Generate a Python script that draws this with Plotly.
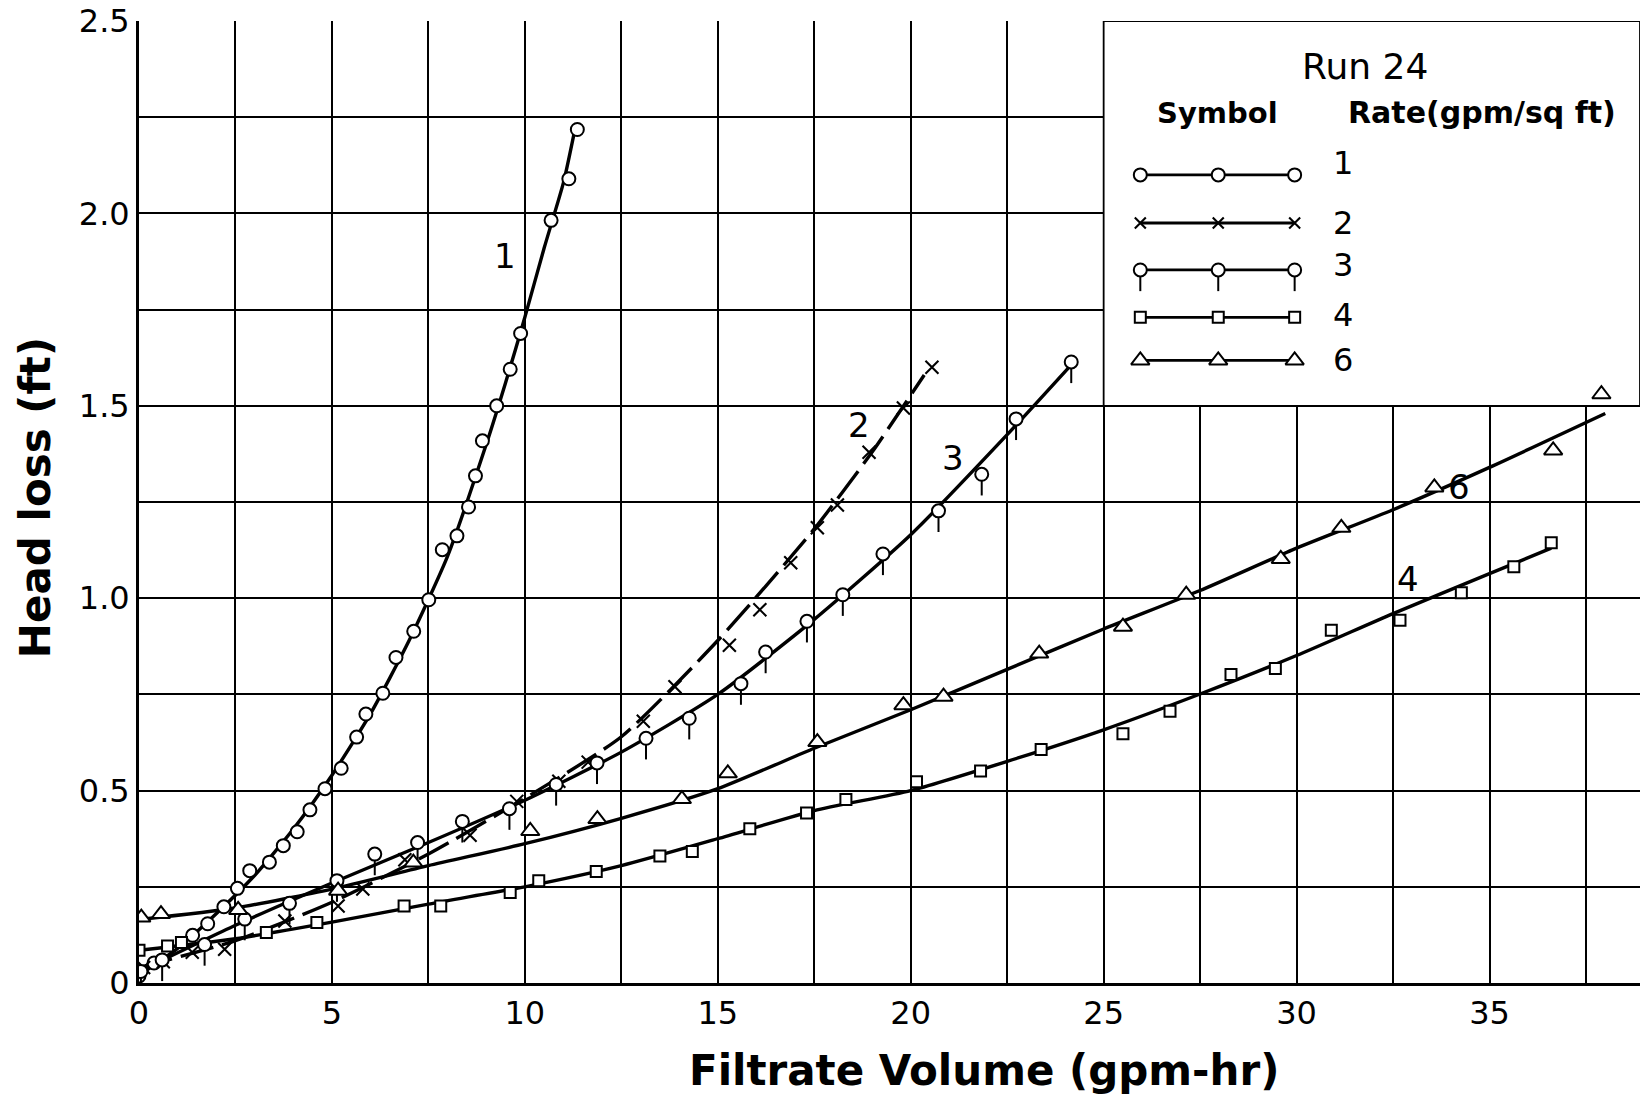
import plotly.graph_objects as go

# ---------------- data (Run 24) ----------------
# Filtrate volume (gpm-hr) and head loss (ft) of the measured points
rate1_x = [0.0, 0.39, 1.39, 1.78, 2.2, 2.55, 2.87, 3.38, 3.74, 4.1, 4.43, 4.82, 5.24, 5.64, 5.88, 6.32, 6.66, 7.12, 7.51, 7.86, 8.24, 8.54, 8.72, 8.9, 9.27, 9.62, 9.89, 10.68, 11.14, 11.36]
rate1_y = [0.018, 0.052, 0.124, 0.154, 0.198, 0.246, 0.292, 0.314, 0.357, 0.393, 0.45, 0.505, 0.558, 0.639, 0.699, 0.753, 0.846, 0.914, 0.996, 1.126, 1.162, 1.237, 1.318, 1.409, 1.50, 1.595, 1.688, 1.982, 2.09, 2.218]

rate2_x = [0.12, 0.63, 1.38, 2.22, 3.78, 5.16, 5.8, 6.89, 8.58, 9.79, 10.88, 11.64, 13.07, 13.89, 15.3, 16.09, 16.89, 17.58, 18.1, 18.92, 19.81, 20.55]
rate2_y = [0.04, 0.055, 0.08, 0.088, 0.161, 0.20, 0.244, 0.32, 0.384, 0.472, 0.524, 0.574, 0.68, 0.77, 0.878, 0.97, 1.092, 1.183, 1.242, 1.379, 1.494, 1.60]

rate3_x = [0.05, 0.6, 1.7, 2.74, 3.9, 5.13, 6.11, 7.22, 8.38, 9.6, 10.81, 11.87, 13.14, 14.26, 15.6, 16.24, 17.31, 18.24, 19.28, 20.72, 21.84, 22.73, 24.16]
rate3_y = [0.03, 0.06, 0.10, 0.166, 0.207, 0.266, 0.335, 0.365, 0.42, 0.453, 0.516, 0.572, 0.636, 0.688, 0.778, 0.86, 0.94, 1.009, 1.115, 1.227, 1.322, 1.466, 1.614]

rate4_x = [0.0, 0.74, 1.1, 3.3, 4.61, 6.87, 7.82, 9.62, 10.36, 11.85, 13.5, 14.34, 15.83, 17.3, 18.32, 20.15, 21.81, 23.38, 25.5, 26.72, 28.3, 29.45, 30.9, 32.68, 34.27, 35.63, 36.6]
rate4_y = [0.085, 0.096, 0.105, 0.131, 0.157, 0.20, 0.20, 0.235, 0.266, 0.29, 0.33, 0.342, 0.401, 0.442, 0.477, 0.523, 0.551, 0.607, 0.648, 0.706, 0.802, 0.817, 0.917, 0.943, 1.014, 1.082, 1.144]

rate6_x = [0.06, 0.57, 2.57, 5.16, 7.11, 10.14, 11.88, 14.07, 15.26, 17.58, 19.81, 20.85, 23.33, 25.5, 27.14, 29.59, 31.16, 33.57, 36.65, 37.9]
rate6_y = [0.17, 0.179, 0.19, 0.24, 0.313, 0.395, 0.426, 0.478, 0.545, 0.626, 0.722, 0.744, 0.856, 0.926, 1.009, 1.102, 1.183, 1.288, 1.384, 1.53]

# hand-drawn fitted curves
curve1_x = [0, 1, 2, 3, 4, 5, 6, 7, 8, 9, 9.5, 10, 10.5, 11, 11.28]
curve1_y = [0.02, 0.09, 0.18, 0.28, 0.40, 0.54, 0.70, 0.89, 1.11, 1.40, 1.56, 1.73, 1.91, 2.08, 2.21]

curve2_x = [0, 2.5, 5, 7.5, 10, 12.5, 15, 17.5, 19, 20.35]
curve2_y = [0.04, 0.11, 0.21, 0.335, 0.48, 0.64, 0.89, 1.18, 1.38, 1.58]

curve3_x = [0, 2.5, 5, 7.5, 10, 12.5, 15, 17.5, 20, 22.5, 24.1]
curve3_y = [0.03, 0.15, 0.26, 0.365, 0.475, 0.60, 0.75, 0.945, 1.165, 1.425, 1.60]

curve4_x = [0, 2.5, 5, 7.5, 10, 12.5, 15, 17.5, 20, 22.5, 25, 27.5, 30, 32.5, 35, 36.6]
curve4_y = [0.085, 0.115, 0.158, 0.205, 0.25, 0.305, 0.375, 0.448, 0.50, 0.576, 0.658, 0.751, 0.851, 0.96, 1.064, 1.13]

curve6_x = [0, 2.5, 5, 7.5, 10, 12.5, 15, 17.5, 20, 22.5, 25, 27.5, 30, 32.5, 35, 38]
curve6_y = [0.165, 0.195, 0.244, 0.305, 0.362, 0.428, 0.505, 0.61, 0.71, 0.815, 0.92, 1.02, 1.13, 1.23, 1.34, 1.48]

rate_labels = ["1", "2", "3", "4", "6"]
x_tick_vals = [0, 5, 10, 15, 20, 25, 30, 35]
x_tick_text = ["0", "5", "10", "15", "20", "25", "30", "35"]
y_tick_vals = [0, 0.5, 1.0, 1.5, 2.0, 2.5]
y_tick_text = ["0", "0.5", "1.0", "1.5", "2.0", "2.5"]

# ---------------- style ----------------
FONT = "DejaVu Sans"
INK = "black"
LW = 3.4
STEM = 0.055  # length of the stem under the rate-3 symbol (data units)

styles = {
    "1": dict(symbol="circle", size=13),
    "2": dict(symbol="x-thin", size=13),
    "3": dict(symbol="circle", size=13),
    "4": dict(symbol="square", size=11),
    "6": dict(symbol="triangle-up", size=16),
}

def marker(key, legend=False):
    s = styles[key]
    if key == "2":
        return dict(symbol="x-thin", size=11 if legend else s["size"], line=dict(color=INK, width=2.1))
    return dict(symbol=s["symbol"], size=s["size"], color="white",
                line=dict(color=INK, width=2.0))

fig = go.Figure()

curves = [
    (curve1_x, curve1_y, "solid"),
    (curve2_x, curve2_y, "34px,9px"),
    (curve3_x, curve3_y, "solid"),
    (curve4_x, curve4_y, "solid"),
    (curve6_x, curve6_y, "solid"),
]
for cx, cy, dash in curves:
    fig.add_trace(go.Scatter(x=cx, y=cy, mode="lines",
                             line=dict(color=INK, width=LW, dash=dash, shape="spline", smoothing=0.6),
                             hoverinfo="skip", showlegend=False))

series = [("1", rate1_x, rate1_y), ("2", rate2_x, rate2_y), ("3", rate3_x, rate3_y),
          ("4", rate4_x, rate4_y), ("6", rate6_x, rate6_y)]
for key, sx, sy in series:
    err = None
    if key == "3":
        err = dict(type="data", symmetric=False, array=[0] * len(sx), arrayminus=[STEM] * len(sx),
                   width=0, thickness=2.0, color=INK)
    fig.add_trace(go.Scatter(x=sx, y=sy, mode="markers", marker=marker(key), error_y=err,
                             name=key, showlegend=False))

# ---------------- custom legend box ----------------
LEG_X = [25.95, 27.97, 29.95]
LEG_ROW_Y = [2.10, 1.975, 1.853, 1.73, 1.618]
LEG_LABEL_Y = [2.13, 1.975, 1.865, 1.735, 1.62]
LEG_LABEL_X = 31.2

fig.add_shape(type="rect", xref="x", yref="y", x0=25, x1=38.9, y0=1.5, y1=2.5,
              fillcolor="white", line=dict(color=INK, width=1.8), layer="between")

for i, key in enumerate(rate_labels):
    err = None
    if key == "3":
        err = dict(type="data", symmetric=False, array=[0, 0, 0], arrayminus=[STEM] * 3,
                   width=0, thickness=2.0, color=INK)
    fig.add_trace(go.Scatter(x=LEG_X, y=[LEG_ROW_Y[i]] * 3, mode="lines+markers",
                             line=dict(color=INK, width=2.8), marker=marker(key, legend=True), error_y=err,
                             hoverinfo="skip", showlegend=False))
    fig.add_annotation(x=LEG_LABEL_X, y=LEG_LABEL_Y[i], xref="x", yref="y", text=key, showarrow=False,
                       font=dict(family=FONT, size=32, color=INK))

fig.add_annotation(x=31.76, y=2.383, xref="x", yref="y", text="Run 24", showarrow=False,
                   font=dict(family=FONT, size=36, color=INK))
fig.add_annotation(x=27.96, y=2.262, xref="x", yref="y", text="<b>Symbol</b>", showarrow=False,
                   font=dict(family=FONT, size=29, color=INK))
fig.add_annotation(x=34.8, y=2.262, xref="x", yref="y", text="<b>Rate(gpm/sq ft)</b>", showarrow=False,
                   font=dict(family=FONT, size=30, color=INK))

# curve labels
for txt, lx, ly in [("1", 9.49, 1.89), ("2", 18.67, 1.45), ("3", 21.1, 1.365), ("6", 34.2, 1.29), ("4", 32.9, 1.05)]:
    fig.add_annotation(x=lx, y=ly, xref="x", yref="y", text=txt, showarrow=False,
                       font=dict(family=FONT, size=34, color=INK))

# axis titles
fig.add_annotation(x=0.563, y=-0.0905, xref="paper", yref="paper", xanchor="center", yanchor="middle",
                   text="<b>Filtrate Volume (gpm-hr)</b>",
                   showarrow=False, font=dict(family=FONT, size=42, color=INK))
fig.add_annotation(x=-0.0693, y=0.505, xref="paper", yref="paper", xanchor="center", yanchor="middle",
                   text="<b>Head loss (ft)</b>",
                   textangle=-90, showarrow=False, font=dict(family=FONT, size=42, color=INK))

grid = dict(showgrid=True, gridcolor=INK, gridwidth=1.8)
fig.update_xaxes(range=[0, 38.9], tickmode="array", tickvals=x_tick_vals, ticktext=x_tick_text,
                 showline=True, linecolor=INK, linewidth=2.8, zeroline=False, ticks="",
                 tickfont=dict(family=FONT, size=32, color=INK),
                 minor=dict(dtick=2.5, tick0=0, showgrid=True, gridcolor=INK, gridwidth=1.8),
                 **grid)
fig.update_yaxes(range=[0, 2.5], tickmode="array", tickvals=y_tick_vals, ticktext=y_tick_text,
                 showline=True, linecolor=INK, linewidth=2.8, zeroline=False, ticks="",
                 tickfont=dict(family=FONT, size=32, color=INK),
                 minor=dict(dtick=0.25, tick0=0, showgrid=True, gridcolor=INK, gridwidth=1.8),
                 **grid)

fig.update_layout(width=1640, height=1102, margin=dict(l=139, r=0, t=21, b=119),
                  plot_bgcolor="white", paper_bgcolor="white", showlegend=False)

fig.write_html("out.html")
